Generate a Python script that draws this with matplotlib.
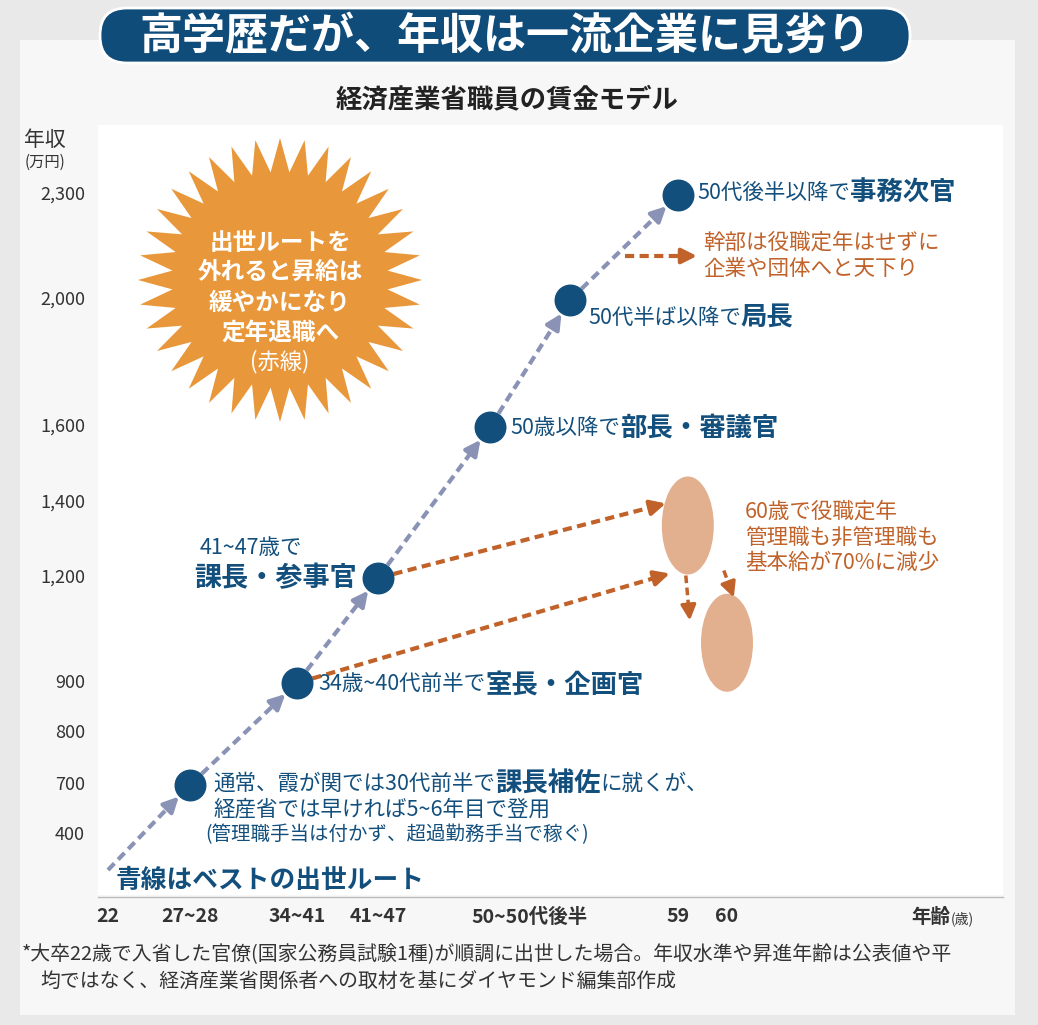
import numpy as np
import matplotlib
matplotlib.use("Agg")
import matplotlib.pyplot as plt
from matplotlib.patches import FancyBboxPatch, Polygon, Ellipse, Rectangle

plt.rcParams['font.family'] = ['Noto Sans CJK JP', 'DejaVu Sans']

# ---- data ----
age_tick_labels = ["22", "27~28", "34~41", "41~47", "50~50代後半", "59", "60"]
age_tick_vals = [22, 27.5, 34, 41, 52.5, 59, 60]
salary_ticks = [400, 700, 800, 900, 1200, 1400, 1600, 2000, 2300]
point_ages = [27.5, 34, 41, 50, 55, 59]
point_salary = [700, 900, 1200, 1600, 2000, 2300]
start_age, start_salary = 22, 300

# ---- layout (non-linear scales of the infographic) ----
W, H = 1038, 1025
age_knots = [22, 27.5, 34, 41, 50, 52.5, 55, 59, 60]
age_px = [108, 190, 297, 378, 490, 530, 570, 678, 727]
sal_knots = [300, 400, 700, 800, 900, 1200, 1400, 1600, 2000, 2300]
sal_px = [870, 835, 785, 733, 683, 578, 503, 427, 300, 195]
def X(a): return float(np.interp(a, age_knots, age_px))
def Y(s): return float(np.interp(s, sal_knots, sal_px))

BLUE = '#134f7c'
ARROWB = '#8a93b5'
ORANGE = '#c0622a'

fig = plt.figure(figsize=(W/100, H/100), dpi=100, facecolor='#e9e9e9')
ax = fig.add_axes([0, 0, 1, 1])
ax.set_xlim(0, W); ax.set_ylim(H, 0); ax.axis('off')
fig.canvas.draw()
renderer = fig.canvas.get_renderer()

def seq(x, y, parts):
    """parts: list of (text, fontsize, bold). Place consecutively."""
    for t, fs, b in parts:
        tx = ax.text(x, y, t, fontsize=fs, fontweight='bold' if b else 'normal',
                     color=BLUE, ha='left', va='center', zorder=5)
        bb = tx.get_window_extent(renderer)
        x += bb.width

ax.add_patch(Rectangle((20, 40), 995, 975, facecolor='#f7f7f7', edgecolor='none', zorder=0))
ax.add_patch(Rectangle((98, 125), 905, 770, facecolor='white', edgecolor='none', zorder=0))

# banner
ax.add_patch(FancyBboxPatch((100, 8), 810, 55, boxstyle="round,pad=0,rounding_size=27",
                            facecolor='#0f4c7a', edgecolor='white', lw=2, zorder=2))
ax.text(505, 36, "高学歴だが、年収は一流企業に見劣り", color='white', fontsize=31,
        fontweight='bold', ha='center', va='center', zorder=3)
ax.text(507, 100, "経済産業省職員の賃金モデル", fontsize=19, fontweight='bold',
        ha='center', va='center', color='#222222')

# axes labels
ax.text(45, 140, "年収", fontsize=15, ha='center', va='center', color='#333')
ax.text(45, 162, "(万円)", fontsize=11, ha='center', va='center', color='#333')
for s in salary_ticks:
    ax.text(85, Y(s), f"{s:,}", fontsize=13, ha='right', va='center', color='#333')
ax.plot([98, 1003], [897, 897], color='#bbbbbb', lw=1)
for lab, a in zip(age_tick_labels, age_tick_vals):
    ax.text(X(a), 917, lab, fontsize=14, fontweight='bold', ha='center', va='center', color='#333')
ax.text(950, 917, "年齢", fontsize=14, fontweight='bold', ha='right', va='center', color='#333')
ax.text(951, 919, "(歳)", fontsize=10, ha='left', va='center', color='#333')

# starburst
cx, cy, n = 280, 280, 36
ang = np.linspace(0, 2*np.pi, 2*n, endpoint=False)
r = np.where(np.arange(2*n) % 2 == 0, 142, 108)
ax.add_patch(Polygon(np.c_[cx + r*np.cos(ang), cy + r*np.sin(ang)], closed=True,
                     facecolor='#e8973b', edgecolor='none', zorder=2))
for t, yy in zip(["出世ルートを", "外れると昇給は", "緩やかになり", "定年退職へ"], [243, 272, 303, 333]):
    ax.text(cx, yy, t, fontsize=17, fontweight='bold', color='white', ha='center', va='center', zorder=3)
ax.text(cx, 362, "(赤線)", fontsize=16, color='white', ha='center', va='center', zorder=3)

def dashed_arrow(p0, p1, color, shrink0=0, shrink1=0, lw=3):
    p0 = np.array(p0, float); p1 = np.array(p1, float)
    d = p1 - p0; L = np.hypot(*d); u = d / L
    a = p0 + u*shrink0; b = p1 - u*shrink1
    ax.plot([a[0], b[0]-u[0]*10], [a[1], b[1]-u[1]*10], color=color, lw=lw,
            linestyle=(0, (2.2, 1.3)), zorder=3)
    ax.annotate("", xy=b, xytext=b - u*12,
                arrowprops=dict(arrowstyle='-|>,head_length=0.9,head_width=0.45',
                                color=color, lw=lw, shrinkA=0, shrinkB=0), zorder=3)

# ellipses
e1 = (X(59.2), Y(1340)); e2 = (X(60), Y(1015))
ax.add_patch(Ellipse(e1, 52, 98, facecolor='#e2b08e', edgecolor='none', zorder=2))
ax.add_patch(Ellipse(e2, 52, 98, facecolor='#e2b08e', edgecolor='none', zorder=2))

# blue route
pts = [(X(start_age), Y(start_salary))] + [(X(a), Y(s)) for a, s in zip(point_ages, point_salary)]
for i in range(len(pts)-1):
    dashed_arrow(pts[i], pts[i+1], ARROWB, shrink0=0 if i == 0 else 16, shrink1=16)
for p in pts[1:]:
    ax.plot(*p, 'o', ms=22, color=BLUE, zorder=4)

# orange arrows
p1200 = (X(41), Y(1200)); p900 = (X(34), Y(900))
dashed_arrow(p1200, (e1[0]-22, e1[1]-22), ORANGE, shrink0=16)
dashed_arrow(p900, (e1[0]-18, e1[1]+48), ORANGE, shrink0=16)
dashed_arrow((e1[0]-2, e1[1]+50), (e1[0]+2, e1[1]+95), ORANGE, lw=2.5)
dashed_arrow((e1[0]+36, e1[1]+45), (e1[0]+46, e1[1]+72), ORANGE, lw=2.5)
dashed_arrow((625, 256), (697, 256), ORANGE)

# labels
seq(697, 193, [("50代後半以降で", 15.5, False), ("事務次官", 19, True)])
seq(588, 318, [("50代半ば以降で", 15.5, False), ("局長", 19, True)])
seq(510, 428, [("50歳以降で", 15.5, False), ("部長・審議官", 19, True)])
seq(318, 685, [("34歳~40代前半で", 15.5, False), ("室長・企画官", 19, True)])
seq(200, 548, [("41~47歳で", 15.5, False)])
seq(194, 578, [("課長・参事官", 19.5, True)])
seq(213, 784, [("通常、霞が関では30代前半で", 15.5, False), ("課長補佐", 19, True), ("に就くが、", 15.5, False)])
seq(213, 810, [("経産省では早ければ5~6年目で登用", 15.5, False)])
seq(205, 835, [("(管理職手当は付かず、超過勤務手当で稼ぐ)", 14, False)])
seq(116, 880, [("青線はベストの出世ルート", 18.5, True)])

for t, yy in zip(["幹部は役職定年はせずに", "企業や団体へと天下り"], [243, 269]):
    ax.text(703, yy, t, fontsize=15.5, color=ORANGE, ha='left', va='center')
for t, yy in zip(["60歳で役職定年", "管理職も非管理職も", "基本給が70%に減少"], [512, 538, 563]):
    ax.text(745, yy, t, fontsize=15.5, color=ORANGE, ha='left', va='center')

ax.text(22, 955, "*大卒22歳で入省した官僚(国家公務員試験1種)が順調に出世した場合。年収水準や昇進年齢は公表値や平",
        fontsize=14.3, color='#333', ha='left', va='center')
ax.text(40, 982, "均ではなく、経済産業省関係者への取材を基にダイヤモンド編集部作成",
        fontsize=14.3, color='#333', ha='left', va='center')

fig.savefig("out.png", dpi=100, facecolor=fig.get_facecolor())
